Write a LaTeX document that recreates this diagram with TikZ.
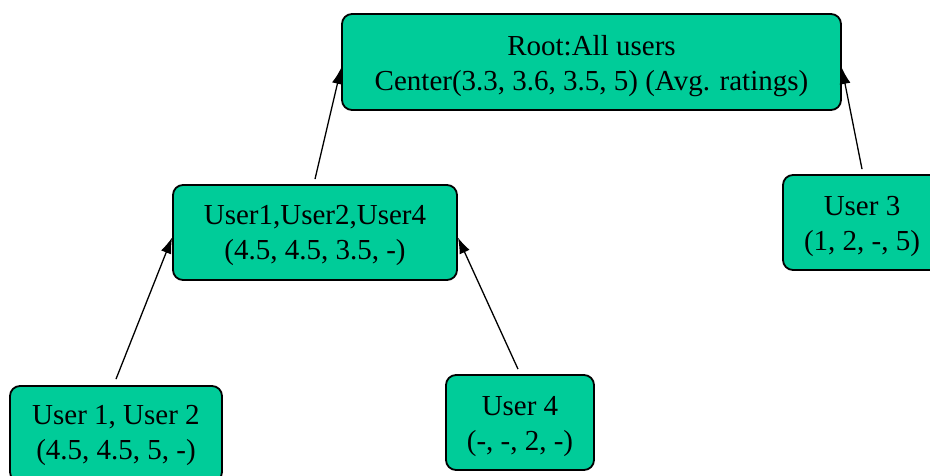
\documentclass[tikz,border=0pt]{standalone}
\usepackage{fontspec}
\setmainfont{Liberation Serif}
\usetikzlibrary{arrows.meta}
\definecolor{boxgreen}{RGB}{0,204,153}
\tikzset{
  userbox/.style={draw=black, fill=boxgreen, line width=1.8pt, rounded corners=10pt,
    inner sep=0pt},
  boxtext/.style={inner sep=0pt, align=center, font=\fontsize{29}{35}\selectfont},
  arr/.style={-{Latex[length=16pt,width=11pt]}, line width=1.3pt, black}
}
\begin{document}
\begin{tikzpicture}[x=1pt,y=-1pt]
\useasboundingbox (0,0) rectangle (930,476);
\node[userbox, minimum width=499pt, minimum height=96pt] (root) at (591.5,62) {};
\node[userbox, minimum width=284pt, minimum height=95pt] (mid) at (315,232.5) {};
\node[userbox, minimum width=158pt, minimum height=95pt] (u3) at (862,222.5) {};
\node[userbox, minimum width=212pt, minimum height=96pt] (u12) at (116,434) {};
\node[userbox, minimum width=148pt, minimum height=95pt] (u4) at (520,422.5) {};
\node[boxtext] (roottext) at ([yshift=-4pt]root.center)
  {Root:All users\\Center(3.3, 3.6, 3.5, 5) (Avg. ratings)};
\node[boxtext] (midtext) at ([yshift=-3pt]mid.center)
  {User1,User2,User4\\(4.5, 4.5, 3.5, -)};
\node[boxtext] (u3text) at ([yshift=-3.5pt]u3.center)
  {User 3\\(1, 2, -, 5)};
\node[boxtext] (u12text) at ([yshift=-1pt]u12.center)
  {User 1, User 2\\(4.5, 4.5, 5, -)};
\node[boxtext] (u4text) at ([yshift=-4pt]u4.center)
  {User 4\\(-, -, 2, -)};
\draw[arr] ([yshift=5pt]mid.north) -- ([yshift=-6pt]root.west);
\draw[arr] ([yshift=5pt]u3.north) -- ([yshift=-6pt]root.east);
\draw[arr] ([yshift=6pt]u12.north) -- ([yshift=-5pt]mid.west);
\draw[arr] ([xshift=-2pt,yshift=5pt]u4.north) -- ([yshift=-5pt]mid.east);
\end{tikzpicture}
\end{document}
